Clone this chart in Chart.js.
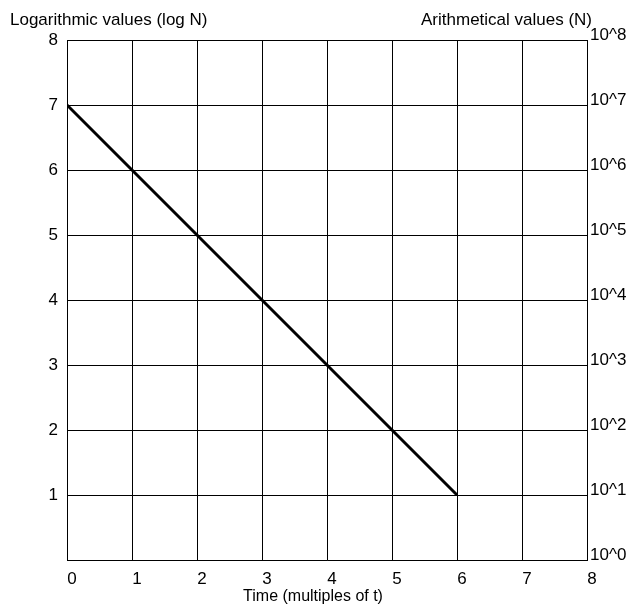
<!DOCTYPE html>
<html>
<head>
<meta charset="utf-8">
<script src="https://cdn.jsdelivr.net/npm/chart.js@4/dist/chart.umd.min.js"></script>
<style>
  html, body { margin: 0; padding: 0; background: #fff; }
  #wrap { width: 632px; height: 606px; position: relative; }
</style>
</head>
<body>
<div id="wrap"><canvas id="c" width="632" height="606"></canvas></div>
<script>
// ---- data ----
const timeValues = [0, 1, 2, 3, 4, 5, 6];
const logValues = [7, 6, 5, 4, 3, 2, 1];
const rightTickLabels = ['10^0', '10^1', '10^2', '10^3', '10^4', '10^5', '10^6', '10^7', '10^8'];
const leftTitle = 'Logarithmic values (log N)';
const rightTitle = 'Arithmetical values (N)';
const xTitle = 'Time (multiples of t)';

const FONT = 'Liberation Sans, Arial, sans-serif';

const titlesPlugin = {
  id: 'titles',
  afterDraw(chart) {
    const ctx = chart.ctx;
    const a = chart.chartArea;
    ctx.save();
    ctx.fillStyle = '#000';
    ctx.textBaseline = 'middle';
    ctx.font = '17px ' + FONT;
    ctx.textAlign = 'left';
    ctx.fillText(leftTitle, 10, a.top - 20);
    ctx.textAlign = 'right';
    ctx.fillText(rightTitle, a.right + 5, a.top - 20);
    ctx.font = '16px ' + FONT;
    ctx.textAlign = 'center';
    ctx.fillText(xTitle, (a.left + a.right) / 2 - 14, a.bottom + 37);
    ctx.restore();
  }
};

new Chart(document.getElementById('c'), {
  type: 'line',
  data: {
    datasets: [{
      data: timeValues.map((t, i) => ({ x: t, y: logValues[i] })),
      borderColor: '#000',
      borderWidth: 3,
      pointRadius: 0,
      fill: false,
      tension: 0
    }]
  },
  options: {
    responsive: false,
    animation: false,
    devicePixelRatio: 1,
    layout: { padding: { top: 40, left: 0, right: 0, bottom: 0 } },
    plugins: { legend: { display: false }, tooltip: { enabled: false }, title: { display: false } },
    scales: {
      x: {
        type: 'linear', min: 0, max: 8,
        ticks: { stepSize: 1, color: '#000', font: { family: FONT, size: 17 }, padding: 9, labelOffset: 5, maxRotation: 0 },
        grid: { color: '#000', lineWidth: 1, drawTicks: false },
        border: { color: '#000', width: 1 },
        afterFit: s => { s.height = 46; }
      },
      y: {
        type: 'linear', position: 'left', min: 0, max: 8,
        ticks: { stepSize: 1, color: '#000', font: { family: FONT, size: 17 }, padding: 9,
          callback: v => (v === 0 ? '' : v) },
        grid: { color: '#000', lineWidth: 1, drawTicks: false },
        border: { color: '#000', width: 1 },
        afterFit: s => { s.width = 67; }
      },
      y2: {
        type: 'linear', position: 'right', min: 0, max: 8,
        ticks: { stepSize: 1, color: '#000', font: { family: FONT, size: 17 }, padding: 3, labelOffset: -5,
          callback: v => rightTickLabels[v] },
        grid: { display: false, drawTicks: false },
        border: { color: '#000', width: 1 },
        afterFit: s => { s.width = 45; }
      }
    }
  },
  plugins: [titlesPlugin]
});
</script>
</body>
</html>
